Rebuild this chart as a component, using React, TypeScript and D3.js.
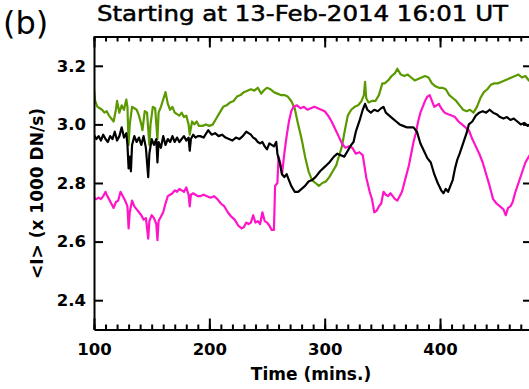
import React, { useEffect, useRef } from "react";
import * as d3 from "d3";

// time (mins) / mean intensity (x1000 DN/s)
const blackSeries: [number, number][] = [
  [100, 2.965], [102, 2.95], [104, 2.96], [106, 2.945], [108, 2.965], [110, 2.95], [112, 2.94],
  [114, 2.96], [116, 2.95], [118, 2.975], [120, 2.945], [122, 2.96], [124, 2.99], [126, 2.955],
  [128, 2.97], [129, 2.93], [130, 2.85], [131, 2.89], [132, 2.84], [133, 2.93], [135, 2.96],
  [137, 2.94], [139, 2.955], [141, 2.93], [143, 2.96], [145, 2.92], [147, 2.82], [148, 2.9],
  [150, 2.95], [152, 2.93], [154, 2.95], [155, 2.87], [156, 2.94], [158, 2.92], [160, 2.96],
  [162, 2.93], [164, 2.95], [166, 2.94], [168, 2.96], [170, 2.94], [172, 2.955], [174, 2.94],
  [176, 2.95], [178, 2.96], [180, 2.945], [182, 2.955], [183, 2.91], [184, 2.95], [186, 2.965],
  [188, 2.955], [190, 2.96], [192, 2.96], [195, 2.955], [199, 2.98], [202, 2.965], [205, 2.97],
  [208, 2.96], [211, 2.965], [214, 2.955], [217, 2.95], [220, 2.945], [223, 2.955], [226, 2.95],
  [229, 2.96], [232, 2.975], [234, 2.97], [236, 2.965], [238, 2.955], [240, 2.95], [242, 2.94],
  [244, 2.935], [246, 2.94], [248, 2.925], [250, 2.915], [252, 2.935], [254, 2.93], [256, 2.925],
  [258, 2.94], [259, 2.9], [261, 2.87], [263, 2.83], [265, 2.82], [267, 2.83], [269, 2.81],
  [271, 2.79], [274, 2.77], [277, 2.77], [280, 2.78], [283, 2.79], [286, 2.805], [289, 2.81],
  [292, 2.82], [296, 2.84], [300, 2.855], [304, 2.87], [308, 2.89], [311, 2.9], [314, 2.895],
  [317, 2.89], [320, 2.91], [323, 2.93], [325, 2.94], [327, 2.975], [330, 3.01], [333, 3.05],
  [335, 3.07], [337, 3.05], [340, 3.04], [343, 3.05], [346, 3.045], [349, 3.055], [351, 3.06],
  [353, 3.04], [356, 3.03], [359, 3.02], [362, 3.01], [365, 3.0], [368, 2.995], [371, 2.99],
  [374, 2.99], [377, 2.99], [380, 2.975], [383, 2.935], [386, 2.91], [389, 2.885], [392, 2.87],
  [395, 2.83], [398, 2.8], [401, 2.775], [403, 2.765], [405, 2.78], [407, 2.77], [409, 2.79],
  [411, 2.81], [413, 2.85], [415, 2.88], [417, 2.9], [420, 2.935], [423, 2.97], [425, 3.0],
  [428, 3.01], [431, 3.03], [434, 3.04], [437, 3.045], [440, 3.04], [443, 3.05], [446, 3.04],
  [449, 3.035], [452, 3.025], [455, 3.02], [458, 3.025], [461, 3.015], [464, 3.02], [467, 3.01],
  [470, 3.0], [473, 3.005], [476, 2.995], [480, 3.0],
];

const greenSeries: [number, number][] = [
  [100, 3.12], [101, 3.08], [103, 3.06], [105, 3.055], [107, 3.05], [109, 3.04], [111, 3.045],
  [113, 3.03], [115, 3.02], [117, 3.01], [119, 3.05], [120, 3.08], [122, 3.04], [124, 3.065],
  [126, 3.05], [128, 3.085], [129, 3.06], [130, 2.93], [131, 3.0], [133, 3.06], [135, 3.055],
  [137, 3.05], [139, 3.03], [141, 3.0], [142, 2.98], [144, 3.045], [146, 3.04], [148, 2.93],
  [149, 3.0], [151, 3.06], [153, 3.055], [155, 2.95], [156, 3.04], [158, 3.06], [160, 3.085],
  [162, 3.11], [164, 3.07], [166, 3.05], [168, 3.06], [170, 3.04], [172, 3.035], [174, 3.03],
  [176, 3.04], [178, 3.025], [180, 3.03], [182, 3.0], [183, 2.965], [185, 3.01], [187, 3.0],
  [189, 3.01], [191, 2.995], [194, 2.995], [197, 3.0], [200, 2.995], [203, 3.0], [206, 3.02],
  [209, 3.04], [212, 3.06], [215, 3.065], [218, 3.075], [221, 3.08], [224, 3.095], [227, 3.1],
  [230, 3.11], [233, 3.115], [236, 3.12], [239, 3.115], [242, 3.125], [245, 3.105], [247, 3.115],
  [250, 3.125], [253, 3.12], [256, 3.11], [259, 3.105], [262, 3.1], [265, 3.1], [268, 3.095],
  [271, 3.08], [274, 3.055], [277, 3.0], [280, 2.95], [283, 2.89], [286, 2.84], [289, 2.81],
  [292, 2.8], [295, 2.79], [298, 2.8], [301, 2.805], [304, 2.82], [307, 2.84], [310, 2.86],
  [313, 2.9], [315, 2.925], [317, 2.97], [320, 3.03], [323, 3.05], [326, 3.06], [329, 3.065],
  [332, 3.08], [334, 3.1], [335, 3.145], [336, 3.09], [338, 3.075], [341, 3.08], [344, 3.08],
  [347, 3.1], [350, 3.14], [352, 3.14], [355, 3.15], [358, 3.165], [361, 3.175], [363, 3.19],
  [366, 3.17], [369, 3.165], [372, 3.17], [375, 3.16], [378, 3.15], [381, 3.155], [384, 3.16],
  [387, 3.165], [390, 3.16], [393, 3.14], [396, 3.13], [399, 3.125], [402, 3.125], [405, 3.12],
  [408, 3.1], [411, 3.09], [414, 3.08], [417, 3.065], [420, 3.05], [423, 3.045], [426, 3.05],
  [429, 3.04], [432, 3.06], [435, 3.09], [438, 3.11], [441, 3.12], [444, 3.135], [447, 3.14],
  [450, 3.14], [453, 3.145], [456, 3.15], [459, 3.155], [462, 3.16], [465, 3.165], [468, 3.17],
  [471, 3.16], [474, 3.165], [477, 3.15], [480, 3.14],
];

const magentaSeries: [number, number][] = [
  [100, 2.75], [102, 2.745], [104, 2.75], [106, 2.745], [108, 2.755], [110, 2.77], [111, 2.76],
  [113, 2.745], [115, 2.73], [117, 2.715], [119, 2.735], [121, 2.74], [123, 2.77], [125, 2.755],
  [127, 2.74], [129, 2.72], [130, 2.645], [131, 2.7], [133, 2.74], [135, 2.72], [137, 2.71],
  [139, 2.7], [141, 2.69], [143, 2.675], [145, 2.68], [147, 2.61], [148, 2.67], [150, 2.69],
  [152, 2.68], [154, 2.66], [155, 2.605], [156, 2.67], [158, 2.685], [160, 2.7], [162, 2.73],
  [164, 2.755], [166, 2.76], [168, 2.765], [170, 2.775], [172, 2.77], [174, 2.78], [176, 2.775],
  [178, 2.77], [180, 2.785], [182, 2.76], [183, 2.72], [184, 2.76], [186, 2.765], [188, 2.76],
  [190, 2.755], [192, 2.755], [195, 2.76], [198, 2.755], [201, 2.75], [204, 2.755], [207, 2.745],
  [210, 2.73], [213, 2.72], [216, 2.7], [219, 2.685], [222, 2.675], [225, 2.655], [228, 2.645],
  [230, 2.65], [232, 2.665], [234, 2.66], [236, 2.665], [238, 2.69], [240, 2.665], [242, 2.67],
  [244, 2.66], [246, 2.7], [248, 2.67], [250, 2.665], [252, 2.655], [254, 2.64], [256, 2.64],
  [257, 2.79], [259, 2.8], [260, 2.89], [262, 2.86], [263, 2.83], [265, 2.9], [267, 2.96],
  [269, 3.01], [271, 3.045], [273, 3.06], [276, 3.065], [279, 3.055], [282, 3.06], [285, 3.05],
  [288, 3.055], [291, 3.06], [294, 3.055], [297, 3.05], [300, 3.045], [303, 3.03], [306, 3.01],
  [309, 2.985], [312, 2.96], [315, 2.935], [318, 2.92], [321, 2.925], [324, 2.92], [327, 2.9],
  [330, 2.905], [333, 2.895], [336, 2.82], [339, 2.77], [341, 2.745], [343, 2.7], [345, 2.705],
  [347, 2.72], [349, 2.73], [351, 2.77], [353, 2.76], [355, 2.755], [357, 2.765], [359, 2.755],
  [361, 2.745], [363, 2.74], [365, 2.755], [367, 2.77], [369, 2.8], [371, 2.83], [373, 2.86],
  [375, 2.9], [377, 2.94], [379, 2.97], [381, 3.01], [383, 3.04], [385, 3.06], [387, 3.08],
  [389, 3.095], [391, 3.1], [393, 3.08], [395, 3.06], [397, 3.065], [399, 3.07], [401, 3.055],
  [404, 3.04], [407, 3.035], [410, 3.03], [413, 3.025], [416, 3.01], [419, 3.0], [422, 2.99],
  [425, 2.98], [428, 2.95], [431, 2.925], [434, 2.9], [437, 2.87], [440, 2.83], [443, 2.79],
  [446, 2.745], [449, 2.73], [452, 2.72], [455, 2.71], [457, 2.69], [459, 2.715], [461, 2.72],
  [463, 2.735], [465, 2.765], [468, 2.8], [471, 2.835], [474, 2.87], [477, 2.89], [480, 2.91],
];

const xMajorTicks = [100, 200, 300, 400];
const yMajorTicks = [2.4, 2.6, 2.8, 3.0, 3.2];

const App = () => {
  const svgRef = useRef<SVGSVGElement>(null);

  useEffect(() => {
    const width = 529;
    const height = 389;
    const left = 94;
    const right = 530; // right frame sits just past the window
    const top = 36.5;
    const bottom = 329.5;

    const svg = d3.select(svgRef.current);
    svg.selectAll("*").remove();

    const x = d3.scaleLinear().domain([100, 478]).range([left, right]);
    const y = d3.scaleLinear().domain([2.3, 3.3]).range([bottom, top]);
    const xMinor = d3.range(100, 481, 10);
    const font = "'DejaVu Sans', sans-serif";

    svg
      .append("defs")
      .append("clipPath")
      .attr("id", "plot")
      .append("rect")
      .attr("x", left)
      .attr("y", top)
      .attr("width", right - left)
      .attr("height", bottom - top);

    const line = d3
      .line<[number, number]>()
      .x((d) => x(d[0]))
      .y((d) => y(d[1]));

    const series: [[number, number][], string][] = [
      [greenSeries, "#5b9900"],
      [magentaSeries, "#ff14c8"],
      [blackSeries, "#000000"],
    ];
    series.forEach(([data, color]) => {
      svg
        .append("path")
        .datum(data)
        .attr("clip-path", "url(#plot)")
        .attr("fill", "none")
        .attr("stroke", color)
        .attr("stroke-width", 2.2)
        .attr("stroke-linejoin", "round")
        .attr("d", line);
    });

    // axes, IDL style: inward ticks, labels on left and bottom
    const styleAxis = (g) => {
      g.selectAll("path").attr("stroke", "#000").attr("stroke-width", 2);
      g.selectAll("line").attr("stroke", "#000").attr("stroke-width", 2);
    };

    svg
      .append("g")
      .attr("transform", `translate(0,${bottom})`)
      .call(d3.axisBottom(x).tickValues(xMinor).tickSize(-5).tickFormat(() => "").tickSizeOuter(0))
      .call(styleAxis);
    svg
      .append("g")
      .attr("transform", `translate(0,${bottom})`)
      .call(d3.axisBottom(x).tickValues(xMajorTicks).tickSize(-11).tickPadding(14).tickSizeOuter(0))
      .call(styleAxis)
      .call((g) => g.select(".domain").remove())
      .selectAll("text")
      .attr("font-family", font)
      .attr("font-weight", "bold")
      .attr("font-size", 16.5)
      .attr("fill", "#000");

    svg
      .append("g")
      .attr("transform", `translate(0,${top})`)
      .call(d3.axisTop(x).tickValues(xMinor).tickSize(-5).tickFormat(() => "").tickSizeOuter(0))
      .call(styleAxis);
    svg
      .append("g")
      .attr("transform", `translate(0,${top})`)
      .call(d3.axisTop(x).tickValues(xMajorTicks).tickSize(-11).tickFormat(() => "").tickSizeOuter(0))
      .call(styleAxis);

    svg
      .append("g")
      .attr("transform", `translate(${left},0)`)
      .call(d3.axisLeft(y).tickValues(yMajorTicks).tickSize(-9).tickPadding(8).tickFormat(d3.format(".1f")).tickSizeOuter(0))
      .call(styleAxis)
      .selectAll("text")
      .attr("font-family", font)
      .attr("font-weight", "bold")
      .attr("font-size", 16.5)
      .attr("fill", "#000");

    svg
      .append("g")
      .attr("transform", `translate(${right},0)`)
      .call(d3.axisRight(y).tickValues(yMajorTicks).tickSize(-7).tickFormat(() => "").tickSizeOuter(0))
      .call(styleAxis);

    svg
      .append("text")
      .attr("x", 311)
      .attr("y", 380)
      .attr("text-anchor", "middle")
      .attr("font-family", font)
      .attr("font-weight", "bold")
      .attr("font-size", 17)
      .text("Time (mins.)");

    svg
      .append("text")
      .attr("transform", `translate(43,193.5) rotate(-90)`)
      .attr("text-anchor", "middle")
      .attr("font-family", font)
      .attr("font-weight", "bold")
      .attr("font-size", 17)
      .text("<I> (x 1000 DN/s)");

    svg
      .append("text")
      .attr("x", 97)
      .attr("y", 21)
      .attr("font-family", font)
      .attr("font-size", 21)
      .attr("stroke", "#000")
      .attr("stroke-width", 0.5)
      .attr("textLength", 411)
      .attr("lengthAdjust", "spacingAndGlyphs")
      .text("Starting at 13-Feb-2014 16:01 UT");

    svg
      .append("text")
      .attr("x", 3)
      .attr("y", 34)
      .attr("font-family", font)
      .attr("font-size", 32)
      .text("(b)");

    svg.attr("width", width).attr("height", height);
  }, []);

  return (
    <svg
      ref={svgRef}
      width={529}
      height={389}
      style={{ position: "absolute", left: 0, top: 0, background: "#fff" }}
    />
  );
};

export default App;
